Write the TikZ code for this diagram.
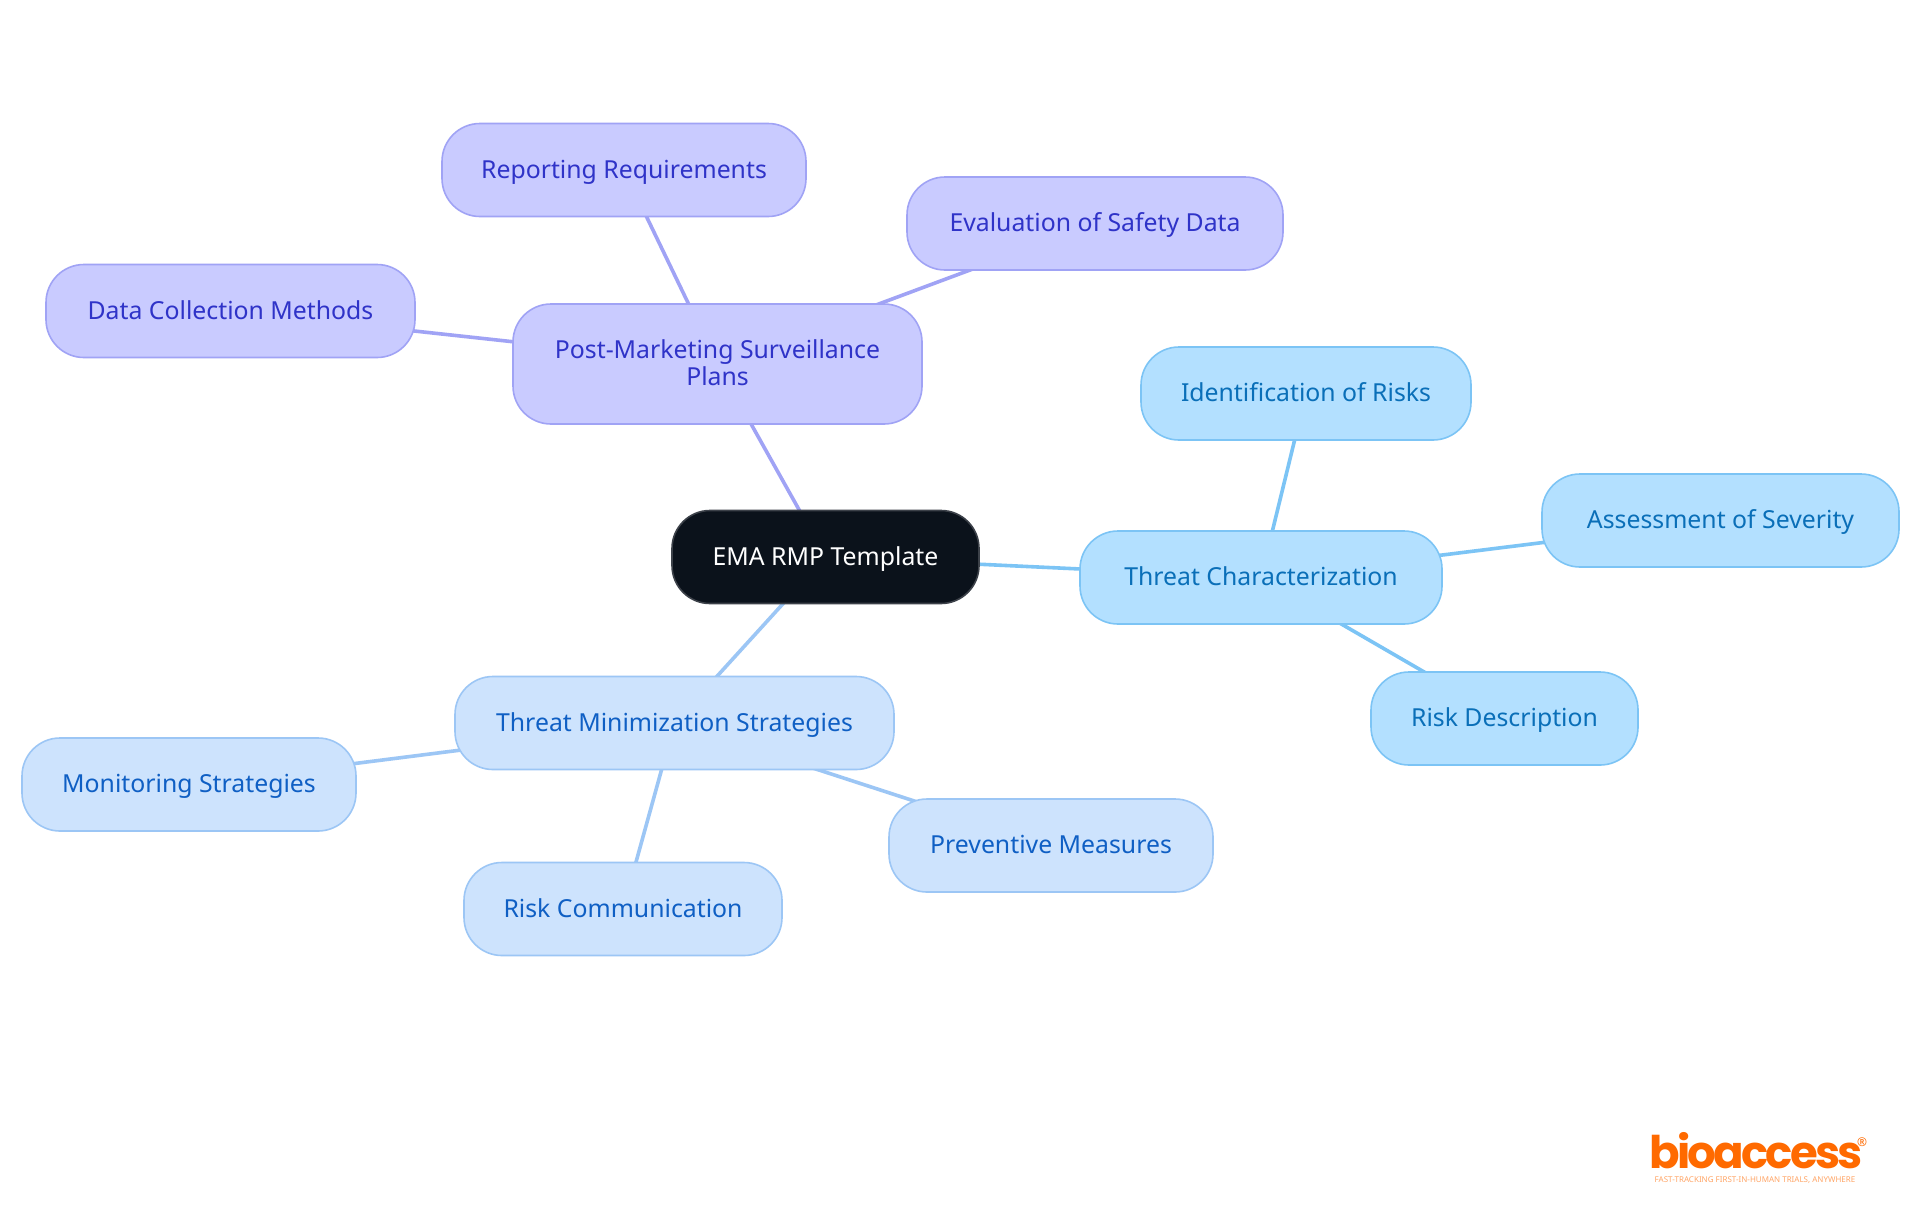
\documentclass[tikz,border=0pt]{standalone}
\usepackage{fontspec}
\setmainfont{Noto Sans}
\newfontfamily\logofont[LetterSpace=-6]{Poppins}
\usetikzlibrary{positioning}
\usetikzlibrary{backgrounds}
\definecolor{lilacfill}{HTML}{C9CBFF}
\definecolor{lilacline}{HTML}{A0A3F5}
\definecolor{lilactext}{HTML}{2F33C8}
\definecolor{skyfill}{HTML}{B3E0FF}
\definecolor{skyline}{HTML}{7CC4F5}
\definecolor{skytext}{HTML}{0A6FB8}
\definecolor{palefill}{HTML}{CDE3FD}
\definecolor{paleline}{HTML}{9CC6F5}
\definecolor{paletext}{HTML}{0F5FC4}
\definecolor{rootfill}{HTML}{0B121B}
\definecolor{logoorange}{HTML}{FF6A00}
\begin{document}
\begin{tikzpicture}
[on grid,%
  topic/.style={draw,line width=0.8pt,rounded corners=19pt,outer sep=0pt,inner sep=0pt,
    align=center,font=\fontsize{12.4}{13.5}\selectfont,minimum height=46.5pt,
    text height=10.2pt,text depth=1.8pt},
  root/.style={topic,fill=rootfill,draw=rootfill!80!white,text=white},
  lilac/.style={topic,fill=lilacfill,draw=lilacline,text=lilactext},
  sky/.style={topic,fill=skyfill,draw=skyline,text=skytext},
  pale/.style={topic,fill=palefill,draw=paleline,text=paletext}]
\path[use as bounding box] (0,0) rectangle (960pt,-607.5pt);
%% nodes
\node[root,minimum width=153.5pt] (ema) at (412.75pt,-278.5pt) {EMA RMP Template};
\node[sky,minimum width=181pt] (threat) [below right=10.25pt and 217.75pt of ema] {Threat Characterization};
\node[lilac,minimum width=204.5pt,minimum height=60pt,text height=24.5pt,text depth=3pt] (post) [above left=96.5pt and 54pt of ema] {Post-Marketing Surveillance\\Plans};
\node[pale,minimum width=219.5pt] (minim) [below left=83pt and 75.5pt of ema] {Threat Minimization Strategies};
\node[lilac,minimum width=182pt] (report) [above left=97pt and 46.75pt of post] {Reporting Requirements};
\node[lilac,minimum width=188pt] (evalu) [above right=70.25pt and 188.75pt of post] {Evaluation of Safety Data};
\node[lilac,minimum width=184.5pt] (data) [above left=26.5pt and 243.5pt of post] {Data Collection Methods};
\node[sky,minimum width=165pt] (ident) [above right=92pt and 22.5pt of threat] {Identification of Risks};
\node[sky,minimum width=178.5pt] (assess) [above right=28.5pt and 229.75pt of threat] {Assessment of Severity};
\node[sky,minimum width=133.5pt] (riskd) [below right=70.5pt and 121.75pt of threat] {Risk Description};
\node[pale,minimum width=167pt] (monit) [below left=30.75pt and 242.75pt of minim] {Monitoring Strategies};
\node[pale,minimum width=159pt] (riskc) [below left=93pt and 25.75pt of minim] {Risk Communication};
\node[pale,minimum width=162pt] (prev) [below right=61.25pt and 188.25pt of minim] {Preventive Measures};
%% logo
\node[text=logoorange,inner sep=0pt,anchor=base,font=\logofont\bfseries\fontsize{22.5}{22.5}\selectfont] (logo) at (878pt,-584pt) {bioaccess};
\node[text=logoorange,inner sep=0pt,font=\fontsize{6}{6}\selectfont] (reg) at (931pt,-571pt) {®};
\node[text=logoorange!60!white,inner sep=0pt,font=\fontsize{4}{4}\selectfont] (tag) at (877.5pt,-590pt) {FAST-TRACKING FIRST-IN-HUMAN TRIALS, ANYWHERE};
%% edges
\begin{pgfonlayer}{background}
\fill[white] (0,0) rectangle (960pt,-607.5pt);
\path[line width=1.8pt]
(ema.center) edge[skyline] (threat.center)
(ema.center) edge[lilacline] (post.center)
(ema.center) edge[paleline] (minim.center)
(post.center) edge[lilacline] (report.center)
(post.center) edge[lilacline] (evalu.center)
(post.center) edge[lilacline] (data.center)
(threat.center) edge[skyline] (ident.center)
(threat.center) edge[skyline] (assess.center)
(threat.center) edge[skyline] (riskd.center)
(minim.center) edge[paleline] (monit.center)
(minim.center) edge[paleline] (riskc.center)
(minim.center) edge[paleline] (prev.center);
\end{pgfonlayer}
\end{tikzpicture}
\end{document}
